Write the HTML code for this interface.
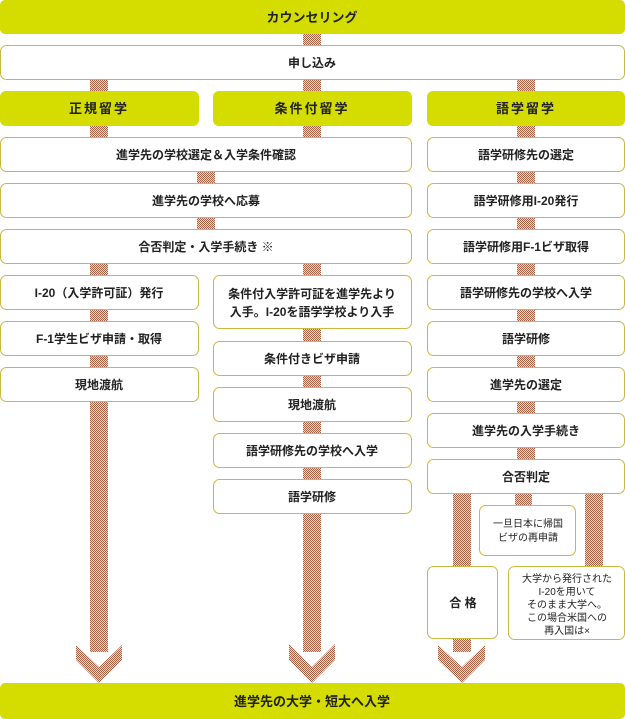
<!DOCTYPE html>
<html><head><meta charset="utf-8"><style>
html,body{margin:0;padding:0;background:#fff;}
svg{display:block;}
text{font-family:"Liberation Sans","Noto Sans CJK JP",sans-serif;font-weight:bold;fill:#222;text-anchor:middle;}
.b{fill:#fff;stroke:#cbb842;stroke-width:1;}
.g{fill:#d4dc00;}
.h{fill:url(#hp);}
.s{font-weight:normal;font-size:10px;}
</style></head><body>
<svg width="625" height="719" viewBox="0 0 625 719" xmlns="http://www.w3.org/2000/svg">
<defs>
<pattern id="hp" width="2" height="2" patternUnits="userSpaceOnUse">
<rect width="2" height="2" fill="#f0d6c8"/><rect width="1" height="1" fill="#aa6246"/><rect x="1" y="1" width="1" height="1" fill="#aa6246"/>
</pattern>
</defs>
<rect class="h" x="303" y="34" width="18" height="12"/>
<rect class="h" x="90" y="80" width="18" height="12"/>
<rect class="h" x="303" y="80" width="18" height="12"/>
<rect class="h" x="517" y="80" width="18" height="12"/>
<rect class="h" x="90" y="126" width="18" height="12"/>
<rect class="h" x="303" y="126" width="18" height="12"/>
<rect class="h" x="197" y="172" width="18" height="12"/>
<rect class="h" x="197" y="218" width="18" height="12"/>
<rect class="h" x="90" y="264" width="18" height="12"/>
<rect class="h" x="303" y="264" width="18" height="12"/>
<rect class="h" x="90" y="310" width="18" height="12"/>
<rect class="h" x="90" y="356" width="18" height="12"/>
<rect class="h" x="303" y="329" width="18" height="12"/>
<rect class="h" x="303" y="376" width="18" height="12"/>
<rect class="h" x="303" y="422" width="18" height="12"/>
<rect class="h" x="303" y="468" width="18" height="12"/>
<rect class="h" x="517" y="126" width="18" height="12"/>
<rect class="h" x="517" y="172" width="18" height="12"/>
<rect class="h" x="517" y="218" width="18" height="12"/>
<rect class="h" x="517" y="264" width="18" height="12"/>
<rect class="h" x="517" y="310" width="18" height="12"/>
<rect class="h" x="517" y="356" width="18" height="12"/>
<rect class="h" x="517" y="402" width="18" height="12"/>
<rect class="h" x="517" y="448" width="18" height="12"/>
<rect class="h" x="90" y="402" width="18" height="250"/>
<polygon class="h" points="76,645 99,667 122,645 122,660 99,683 76,660"/>
<rect class="h" x="303" y="514" width="18" height="138"/>
<polygon class="h" points="289,644 312,667 335,644 335,660 312,683 289,660"/>
<rect class="h" x="453" y="494" width="18" height="73"/>
<rect class="h" x="453" y="638" width="18" height="14"/>
<polygon class="h" points="438,645 462,667 485,645 485,660 462,683 438,660"/>
<rect class="h" x="515" y="494" width="17" height="12"/>
<rect class="h" x="585" y="494" width="18" height="73"/>
<rect class="g" x="0" y="0" width="625" height="34" rx="5"/>
<text x="312" y="22" font-size="13">カウンセリング</text>
<rect class="g" x="0" y="683" width="625" height="36" rx="5"/>
<text x="312" y="706" font-size="13">進学先の大学・短大へ入学</text>
<rect class="b" x="0.5" y="45.5" width="624" height="34" rx="6"/>
<text x="312" y="67" font-size="12">申し込み</text>
<rect class="g" x="0" y="91" width="199" height="35" rx="6"/>
<text x="99" y="113" font-size="13" letter-spacing="2">正規留学</text>
<rect class="g" x="213" y="91" width="199" height="35" rx="6"/>
<text x="312" y="113" font-size="13" letter-spacing="2">条件付留学</text>
<rect class="g" x="427" y="91" width="198" height="35" rx="6"/>
<text x="526" y="113" font-size="13" letter-spacing="2">語学留学</text>
<rect class="b" x="0.5" y="137.5" width="411" height="34" rx="6"/>
<text x="206" y="159" font-size="12">進学先の学校選定＆入学条件確認</text>
<rect class="b" x="0.5" y="183.5" width="411" height="34" rx="6"/>
<text x="206" y="205" font-size="12">進学先の学校へ応募</text>
<rect class="b" x="0.5" y="229.5" width="411" height="34" rx="6"/>
<text x="206" y="251" font-size="12">合否判定・入学手続き ※</text>
<rect class="b" x="0.5" y="275.5" width="198" height="34" rx="6"/>
<text x="99" y="297" font-size="12">I-20（入学許可証）発行</text>
<rect class="b" x="0.5" y="321.5" width="198" height="34" rx="6"/>
<text x="99" y="343" font-size="12">F-1学生ビザ申請・取得</text>
<rect class="b" x="0.5" y="367.5" width="198" height="34" rx="6"/>
<text x="99" y="389" font-size="12">現地渡航</text>
<rect class="b" x="213.5" y="275.5" width="198" height="53" rx="6"/>
<text x="312" y="298" font-size="12">条件付入学許可証を進学先より</text>
<text x="312" y="316" font-size="12">入手。I-20を語学学校より入手</text>
<rect class="b" x="213.5" y="341.5" width="198" height="34" rx="6"/>
<text x="312" y="363" font-size="12">条件付きビザ申請</text>
<rect class="b" x="213.5" y="387.5" width="198" height="34" rx="6"/>
<text x="312" y="409" font-size="12">現地渡航</text>
<rect class="b" x="213.5" y="433.5" width="198" height="34" rx="6"/>
<text x="312" y="455" font-size="12">語学研修先の学校へ入学</text>
<rect class="b" x="213.5" y="479.5" width="198" height="34" rx="6"/>
<text x="312" y="501" font-size="12">語学研修</text>
<rect class="b" x="427.5" y="137.5" width="197" height="34" rx="6"/>
<text x="526" y="159" font-size="12">語学研修先の選定</text>
<rect class="b" x="427.5" y="183.5" width="197" height="34" rx="6"/>
<text x="526" y="205" font-size="12">語学研修用I-20発行</text>
<rect class="b" x="427.5" y="229.5" width="197" height="34" rx="6"/>
<text x="526" y="251" font-size="12">語学研修用F-1ビザ取得</text>
<rect class="b" x="427.5" y="275.5" width="197" height="34" rx="6"/>
<text x="526" y="297" font-size="12">語学研修先の学校へ入学</text>
<rect class="b" x="427.5" y="321.5" width="197" height="34" rx="6"/>
<text x="526" y="343" font-size="12">語学研修</text>
<rect class="b" x="427.5" y="367.5" width="197" height="34" rx="6"/>
<text x="526" y="389" font-size="12">進学先の選定</text>
<rect class="b" x="427.5" y="413.5" width="197" height="34" rx="6"/>
<text x="526" y="435" font-size="12">進学先の入学手続き</text>
<rect class="b" x="427.5" y="459.5" width="197" height="34" rx="6"/>
<text x="526" y="481" font-size="12">合否判定</text>
<rect class="b" x="479.5" y="505.5" width="96" height="50" rx="6"/>
<text class="s" x="528" y="527">一旦日本に帰国</text>
<text class="s" x="528" y="541">ビザの再申請</text>
<rect class="b" x="427.5" y="566.5" width="70" height="72" rx="6"/>
<text x="463" y="607" font-size="12">合 格</text>
<rect class="b" x="508.5" y="566.5" width="116" height="73" rx="6"/>
<text class="s" x="567" y="582">大学から発行された</text>
<text class="s" x="567" y="595">I-20を用いて</text>
<text class="s" x="567" y="608">そのまま大学へ。</text>
<text class="s" x="567" y="621">この場合米国への</text>
<text class="s" x="567" y="634">再入国は×</text>
</svg>
</body></html>
